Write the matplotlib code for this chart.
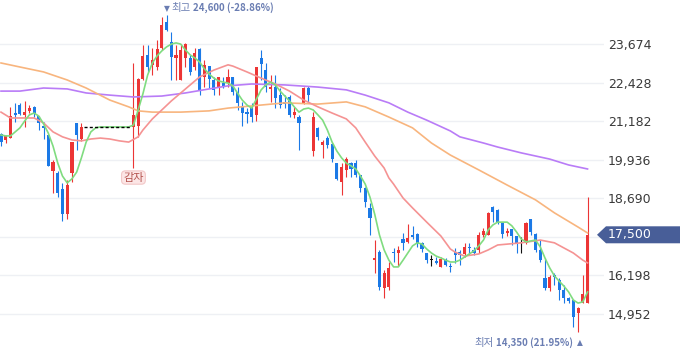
import numpy as np
import matplotlib
matplotlib.use("Agg")
import matplotlib.pyplot as plt
from matplotlib.patches import Polygon
from matplotlib.transforms import IdentityTransform

nan = np.nan
GAP = [nan] * 10  # trading halt (감자)

opens = [20760, 20570, 20630, 21440, 21700, 21380, 21510, 21640, 21340, 21020,
         20730, 19560, 19500, 18980, 18170, 19500, 21120, 20600] + GAP + [
         20990, 21020, 22540, 23320, 23000, 22930, 23550, 24390, 23740, 23220,
         22510, 23220, 23220, 22930, 23510, 22610, 22960, 22510, 22250, 22410,
         22410, 22610, 22120, 21670, 21470, 21600, 21380, 23220, 22830, 22220,
         22280, 22020, 21800, 21960, 21380, 21310, 21770, 22250, 20210, 20960,
         20410, 20630, 20440, 19820, 19210, 19600, 19820, 19820, 19440, 19010,
         18370, 16680, 16940, 15780, 15810, 16940, 16910, 17360, 17270, 17500,
         17530, 17240, 16910, 16680, 16650, 16460, 16680, 16490, 16940, 16940,
         16880, 17110, 17010, 17010, 17500, 17500, 18400, 18300, 17880, 17560,
         17690, 17460, 17240, 17240, 18010, 17530, 17010, 16100, 15780, 16200,
         16040, 15710, 15450, 15390, 14970, 15290, 15290]
closes = [20500, 20700, 21340, 21380, 21410, 21470, 21600, 21410, 21120, 20960,
          19730, 19860, 18850, 18170, 19110, 20500, 20730, 20990] + GAP + [
          21380, 22540, 23290, 22930, 23160, 23510, 24290, 24130, 23250, 23320,
          23480, 23670, 22770, 23380, 22190, 23000, 22540, 22190, 22610, 22320,
          22610, 22120, 21770, 21440, 21410, 21310, 22930, 23030, 22280, 22280,
          21930, 21700, 21730, 21380, 21470, 21120, 22250, 22020, 21310, 20670,
          20500, 20410, 19950, 19310, 19690, 19950, 19630, 19440, 19010, 18560,
          18040, 16750, 15810, 16260, 16430, 16910, 17010, 17240, 17400, 17430,
          17240, 17040, 16680, 16680, 16590, 16720, 16520, 16460, 16850, 16850,
          17110, 17070, 16910, 17500, 17620, 18210, 18240, 17910, 17530, 17620,
          17460, 17240, 17240, 17880, 17590, 17010, 16680, 15780, 16130, 16130,
          15710, 15450, 15360, 14840, 15130, 15580, 17500]
highs = [20790, 20730, 21640, 21770, 21770, 21830, 21700, 21670, 21340, 21150,
         20730, 19920, 19560, 19180, 19270, 20500, 21120, 21120] + GAP + [
         23060, 22570, 23640, 23640, 23550, 23800, 24550, 24600, 24060, 23640,
         23670, 23710, 23320, 23550, 23550, 23160, 22960, 22610, 22610, 22610,
         22870, 22610, 22280, 21800, 21600, 21770, 22930, 23480, 23060, 22670,
         22670, 22250, 22020, 22020, 21640, 21380, 22280, 22320, 21470, 20990,
         20570, 20700, 20470, 19820, 19820, 20020, 19860, 19920, 19440, 19050,
         18530, 17330, 17010, 16360, 16620, 17070, 17140, 17560, 17850, 17790,
         17560, 17270, 16910, 16850, 16780, 16780, 16750, 16590, 17070, 17010,
         17240, 17240, 17110, 17590, 17720, 18240, 18430, 18340, 17880, 17720,
         17690, 17460, 17430, 17910, 18010, 17560, 17330, 16750, 16200, 16260,
         16100, 15880, 15490, 15390, 15160, 16200, 18720]
lows = [20370, 20470, 20630, 21150, 21380, 20990, 21440, 21310, 20890, 20600,
        19730, 18850, 18720, 17950, 18010, 19210, 20240, 20540] + GAP + [
        19660, 20670, 22510, 22770, 22670, 22830, 23480, 24100, 22510, 22510,
        22510, 22930, 22670, 22830, 22020, 22280, 22250, 22020, 22020, 22250,
        22280, 22020, 21540, 21020, 21120, 21150, 21180, 22510, 22120, 21800,
        21600, 21600, 21600, 21310, 21280, 20240, 21730, 21800, 20050, 20570,
        19990, 20310, 19860, 19270, 18790, 19370, 19370, 19370, 18890, 18400,
        17500, 16260, 15710, 15450, 15710, 16620, 16490, 17010, 17240, 17360,
        17110, 16940, 16590, 16490, 16560, 16460, 16490, 16300, 16590, 16520,
        16780, 16850, 16850, 16910, 17430, 17500, 17910, 17850, 17400, 17460,
        17170, 16910, 16910, 17200, 17500, 16940, 16620, 15710, 15680, 15880,
        15390, 15290, 15290, 14520, 14350, 15290, 15290]

ma5 = [20730, 20700, 20700, 20830, 20960, 21180, 21380, 21440, 21340, 21090,
       20790, 20370, 19820, 19400, 19180, 19310, 19530, 19990, 20500, 20830,
       20960, 20990, 20990, 20990, 20990, 20990, 20990, 20990, 21050, 21540,
       22060, 22670, 23060, 23290, 23450, 23580, 23670, 23710, 23670, 23480,
       23320, 23220, 23090, 22870, 22700, 22570, 22480, 22440, 22410, 22320,
       22090, 21860, 21700, 21600, 21890, 22190, 22350, 22440, 22350, 22150,
       21990, 21830, 21640, 21470, 21570, 21600, 21540, 21380, 21210, 20890,
       20500, 20210, 19990, 19820, 19730, 19630, 19400, 19140, 18720, 18170,
       17500, 17010, 16680, 16460, 16460, 16680, 16910, 17140, 17240, 17200,
       17040, 16910, 16810, 16750, 16680, 16620, 16620, 16680, 16780, 16880,
       16980, 17140, 17330, 17660, 17820, 17910, 17910, 17910, 17790, 17590,
       17360, 17270, 17300, 17330, 17110, 16750, 16430, 16170, 16000, 15840,
       15650, 15390, 15290, 15330, 15650]

ma20_idx = [0, 2, 4, 7, 9, 11, 13, 15, 17, 19, 21, 23, 25, 27, 29, 30, 32, 34, 36, 38,
            40, 42, 45, 48, 49, 52, 55, 58, 61, 64, 67, 70, 73, 75, 77, 79, 81, 82, 83, 85,
            87, 90, 93, 95, 96, 98, 101, 103, 105, 110, 114, 117, 121, 123, 124]
ma20 = [21470, 21280, 21280, 21280, 21120, 20830, 20670, 20570, 20540, 20600,
        20630, 20600, 20540, 20500, 20670, 20890, 21250, 21540, 21830, 22090,
        22350, 22610, 22830, 23000, 22960, 22770, 22570, 22380, 22150, 21860,
        21640, 21440, 21250, 20960, 20500, 20050, 19660, 19340, 19140, 18690,
        18370, 17910, 17460, 17040, 16940, 16810, 16880, 17010, 17170, 17240,
        17330, 17240, 16910, 16680, 16590]

ma60_idx = [0, 4, 9, 14, 18, 23, 27, 29, 32, 38, 44, 48, 53, 60, 67, 73, 77, 82, 87, 91,
            95, 97, 101, 107, 113, 117, 122, 124]
ma60 = [23060, 22930, 22770, 22510, 22250, 21860, 21640, 21510, 21470, 21470,
        21510, 21600, 21670, 21770, 21730, 21800, 21640, 21310, 20960, 20470,
        20080, 19920, 19600, 19110, 18630, 18210, 17750, 17560]

ma120_idx = [0, 4, 9, 14, 18, 23, 28, 34, 39, 44, 48, 53, 60, 67, 73, 77, 82, 86, 90, 95,
             97, 102, 105, 110, 116, 120, 124]
ma120 = [22150, 22150, 22250, 22220, 22090, 22020, 21960, 21990, 22090, 22220,
         22320, 22380, 22350, 22280, 22190, 22020, 21770, 21470, 21210, 20860,
         20670, 20470, 20340, 20150, 19950, 19760, 19630]

tick_values = [14952, 16198, 17444, 18690, 19936, 21182, 22428, 23674]
high_idx, high_text = 35, "24,600 (-28.86%)"
low_idx, low_text = 122, "14,350 (21.95%)"
event_idx, event_label = 28, "감자"

UP, DOWN, FLAT = "#ec3535", "#1b79e6", "#111111"
TXT = "#6a7db2"
KR = ["Noto Sans CJK KR", "DejaVu Sans"]

plt.rcParams["font.family"] = ["DejaVu Sans", "Noto Sans CJK KR"]

fig = plt.figure(figsize=(6.8, 3.58), dpi=100)
ax = fig.add_axes([0, 0, 604 / 680, 1])
ax.set_xlim(-0.21, 127.48)
ax.set_ylim(13513, 25098)
for s in ax.spines.values():
    s.set_visible(False)
ax.set_xticks([])
ax.yaxis.tick_right()

last = closes[-1]
# the tick label behind the current price tag is hidden, as on the site
ax.set_yticks(tick_values, ["" if abs(v - last) < 600 else f"{v:,}" for v in tick_values])
ax.tick_params(axis="y", length=0, pad=3, labelsize=9, labelcolor="#3a3a3a")
ax.grid(axis="y", color="#eef0f4", lw=1)
ax.set_axisbelow(True)

o, h, l, c = (np.array(a, dtype=float) for a in (opens, highs, lows, closes))
x = np.arange(len(o))
ok = ~np.isnan(o)
col = np.where(c > o, UP, np.where(c < o, DOWN, FLAT))

ax.vlines(x[ok], l[ok], h[ok], colors=col[ok], lw=0.8, zorder=3)
ax.bar(x[ok], np.maximum(np.abs(c - o), 40)[ok], bottom=np.minimum(o, c)[ok],
       width=0.66, color=col[ok], lw=0, zorder=3)

# halt period drawn at last close
gap = np.where(~ok)[0]
ax.hlines(c[gap[0] - 1], gap[0] - 0.5, gap[-1] + 0.5, colors="black",
          linestyles=(0, (2.2, 1.6)), lw=1, zorder=5)

ax.plot(ma120_idx, ma120, color="#b97cf7", lw=1.2, zorder=4)
ax.plot(ma60_idx, ma60, color="#f8b57e", lw=1.2, zorder=4)
ax.plot(ma20_idx, ma20, color="#f59393", lw=1.2, zorder=4)
ax.plot(x, ma5, color="#80dc80", lw=1.2, zorder=4)

ax.annotate(event_label, xy=(event_idx, l[event_idx]), xytext=(0, -9.5),
            textcoords="offset pixels", ha="center", va="center", fontsize=8,
            color="#b4544f", family=KR, zorder=6,
            bbox=dict(boxstyle="round,pad=0.15,rounding_size=0.35",
                      fc="#fce6e6", ec="#f2c8c8", lw=0.8))

renderer = fig.canvas.get_renderer()

# highest marker: ▼ 최고 24,600 (-28.86%)
ax.annotate("▼", xy=(high_idx, h[high_idx]), xytext=(0, 7), textcoords="offset pixels",
            ha="center", va="center", fontsize=5.5, color=TXT)
t = ax.annotate("최고", xy=(high_idx, h[high_idx]), xytext=(5, 7.5),
                textcoords="offset pixels", ha="left", va="center",
                fontsize=7.5, color=TXT, family=KR)
w = t.get_window_extent(renderer).width
ax.annotate(high_text, xy=(high_idx, h[high_idx]), xytext=(5 + w + 2.5, 7.5),
            textcoords="offset pixels", ha="left", va="center",
            fontsize=7, fontweight="bold", color=TXT, family=KR)

# lowest marker: 최저 14,350 (21.95%) ▲
ax.annotate("▲", xy=(low_idx, l[low_idx]), xytext=(1.5, -10),
            textcoords="offset pixels", ha="center", va="center",
            fontsize=5.5, color=TXT)
t = ax.annotate(low_text, xy=(low_idx, l[low_idx]), xytext=(-5, -10.5),
                textcoords="offset pixels", ha="right", va="center",
                fontsize=7, fontweight="bold", color=TXT, family=KR)
w = t.get_window_extent(renderer).width
ax.annotate("최저", xy=(low_idx, l[low_idx]), xytext=(-5 - w - 2, -10.5),
            textcoords="offset pixels", ha="right", va="center",
            fontsize=7.5, color=TXT, family=KR)

# current price tag on the right
yd = ax.transData.transform((0, last))[1]
tag = Polygon([(597, yd), (606, yd + 8.5), (680, yd + 8.5), (680, yd - 8.5), (606, yd - 8.5)],
              closed=True, fc="#485e98", ec="none", transform=IdentityTransform(), zorder=5)
fig.add_artist(tag)
fig.text(608, yd, f"{last:,.0f}", transform=IdentityTransform(), ha="left", va="center",
         fontsize=9, color="white", zorder=6)

fig.savefig("out.png", dpi=100)
